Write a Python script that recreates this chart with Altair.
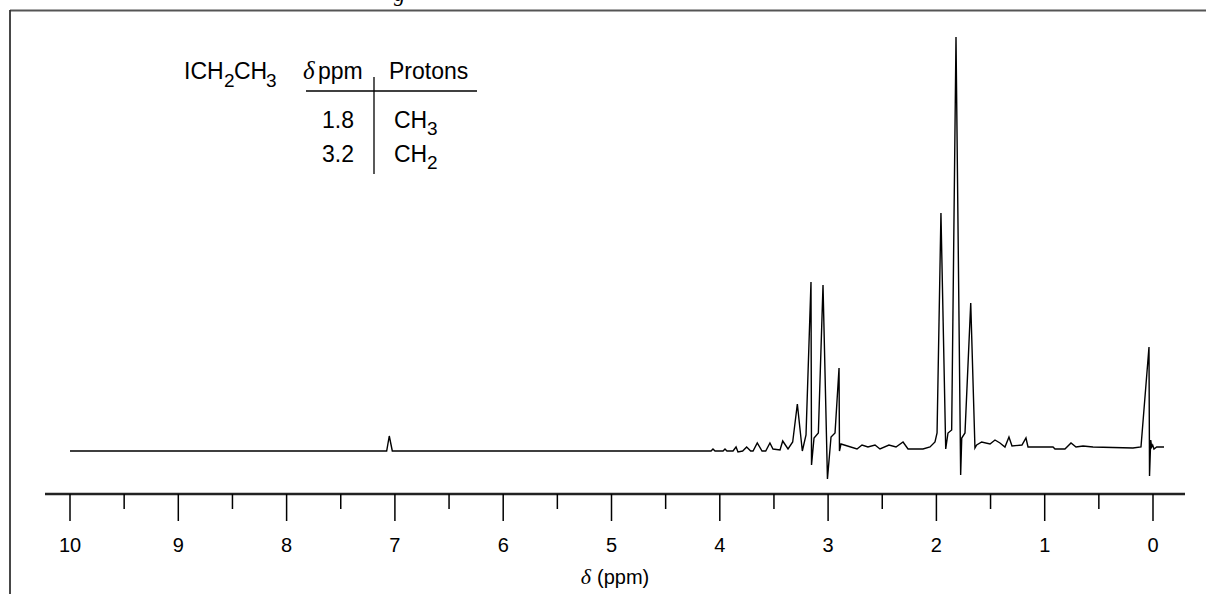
import altair as alt
import pandas as pd

# ---- spectrum (delta ppm, intensity in arbitrary units above baseline) ----
ppm = [10.00, 7.076, 7.052, 7.024, 4.183, 4.081, 4.063, 4.044, 3.970, 3.952, 3.934,
       3.878, 3.850, 3.832, 3.789, 3.752, 3.715, 3.693, 3.654, 3.610, 3.576, 3.537,
       3.509, 3.444, 3.419, 3.370, 3.327, 3.284, 3.238, 3.204, 3.158, 3.153, 3.130,
       3.090, 3.047, 3.006, 2.973, 2.936, 2.899, 2.895, 2.881, 2.733, 2.687, 2.632,
       2.567, 2.521, 2.438, 2.373, 2.308, 2.262, 2.124, 2.059, 2.013, 1.994, 1.958,
       1.914, 1.893, 1.859, 1.819, 1.776, 1.766, 1.736, 1.683, 1.644, 1.628, 1.582,
       1.505, 1.459, 1.413, 1.367, 1.330, 1.302, 1.210, 1.173, 1.154, 0.923, 0.905,
       0.813, 0.757, 0.711, 0.646, 0.554, 0.185, 0.111, 0.037, 0.032, 0.021, 0.012,
       0.003, -0.009, -0.034, -0.102]
intensity = [0, 0, 15, 0, 0, 0, 2, 0, 0, 2, 0,
             0, 4, -1, 0, 4, 0, 0, 8, 0, 0, 8,
             2, 1, 10, 2, 9, 47, 0, 16, 169, -14, 13,
             18, 166, -28, 14, 18, 83, 0, 7, 2, 6, 4,
             6, 2, 6, 4, 9, 2, 2, 4, 9, 18, 238,
             2, 18, 21, 414, -24, 13, 18, 148, 3, 6, 9,
             7, 11, 8, 4, 14, 5, 6, 13, 4, 4, 2,
             2, 8, 4, 5, 4, 3, 4, 104, -25, 11, 4,
             6, 2, 4, 4]

major_ticks = [0, 1, 2, 3, 4, 5, 6, 7, 8, 9, 10]
minor_ticks = [0.5, 1.5, 2.5, 3.5, 4.5, 5.5, 6.5, 7.5, 8.5, 9.5]
tick_labels = ["0", "1", "2", "3", "4", "5", "6", "7", "8", "9", "10"]

W, H = 1206, 594
xs = alt.Scale(domain=[-0.4894, 10.6464], reverse=True, nice=False, zero=False)
ys = alt.Scale(domain=[-143, 451], nice=False, zero=False)

spec = pd.DataFrame({"ppm": ppm, "intensity": intensity, "i": range(len(ppm))})

line = alt.Chart(spec).mark_line(color="black", strokeWidth=1.4).encode(
    x=alt.X("ppm:Q", scale=xs, axis=None),
    y=alt.Y("intensity:Q", scale=ys, axis=None),
    order="i:Q",
)

ticks_major = alt.Chart(pd.DataFrame({"ppm": major_ticks})).mark_rule(
    color="black", strokeWidth=1.5).encode(
    x=alt.X("ppm:Q", scale=xs, axis=None), y=alt.value(494), y2=alt.value(521))
ticks_minor = alt.Chart(pd.DataFrame({"ppm": minor_ticks})).mark_rule(
    color="black", strokeWidth=1.5).encode(
    x=alt.X("ppm:Q", scale=xs, axis=None), y=alt.value(494), y2=alt.value(509))
labels = alt.Chart(pd.DataFrame({"ppm": major_ticks, "lab": tick_labels})).mark_text(
    font="Liberation Sans", fontSize=20, baseline="middle", align="center",
    color="black").encode(
    x=alt.X("ppm:Q", scale=xs, axis=None), y=alt.value(546), text="lab:N")

axis_line = alt.Chart(pd.DataFrame({"a": [0]})).mark_rule(
    color="#222", strokeWidth=2.5).encode(
    x=alt.value(45), x2=alt.value(1185), y=alt.value(494))

frame_top = alt.Chart(pd.DataFrame({"a": [0]})).mark_rule(
    color="#555", strokeWidth=2).encode(
    x=alt.value(10), x2=alt.value(W), y=alt.value(10.5))
frame_left = alt.Chart(pd.DataFrame({"a": [0]})).mark_rule(
    color="#333", strokeWidth=1.8).encode(
    x=alt.value(10), y=alt.value(10), y2=alt.value(H))

table_v = alt.Chart(pd.DataFrame({"a": [0]})).mark_rule(
    color="black", strokeWidth=1.3).encode(
    x=alt.value(374), y=alt.value(77), y2=alt.value(174))
table_h = alt.Chart(pd.DataFrame({"a": [0]})).mark_rule(
    color="black", strokeWidth=1.3).encode(
    x=alt.value(306), x2=alt.value(477), y=alt.value(91))


def txt(s, x, y, size=23, align="left", baseline="alphabetic", font="Liberation Sans",
        style="normal"):
    return alt.Chart(pd.DataFrame({"t": [s]})).mark_text(
        font=font, fontSize=size, align=align, baseline=baseline,
        fontStyle=style, color="black").encode(
        x=alt.value(x), y=alt.value(y), text="t:N")


texts = [
    txt("ICH", 184, 79), txt("2", 224, 87, 19), txt("CH", 234, 79), txt("3", 266, 87, 19),
    txt("δ", 303, 79, 25, font="Liberation Serif", style="italic"),
    txt("ppm", 318, 79), txt("Protons", 389, 79),
    txt("1.8", 354, 128, align="right"), txt("CH", 394, 128), txt("3", 427, 135, 19),
    txt("3.2", 354, 162, align="right"), txt("CH", 394, 162), txt("2", 427, 169, 19),
    txt("δ", 591, 584, 22, align="right", font="Liberation Serif", style="italic"),
    txt("(ppm)", 597, 584, 20),
    txt("g", 394, 1, 22, font="Liberation Serif", style="italic"),
]

chart = alt.layer(
    frame_top, frame_left, axis_line, ticks_major, ticks_minor, labels,
    table_v, table_h, line, *texts
).properties(
    width=W, height=H, padding=0, autosize=alt.AutoSizeParams(type="none")
).configure_view(stroke=None)

chart.save("out.html", embed_options={"renderer": "svg", "actions": False})
